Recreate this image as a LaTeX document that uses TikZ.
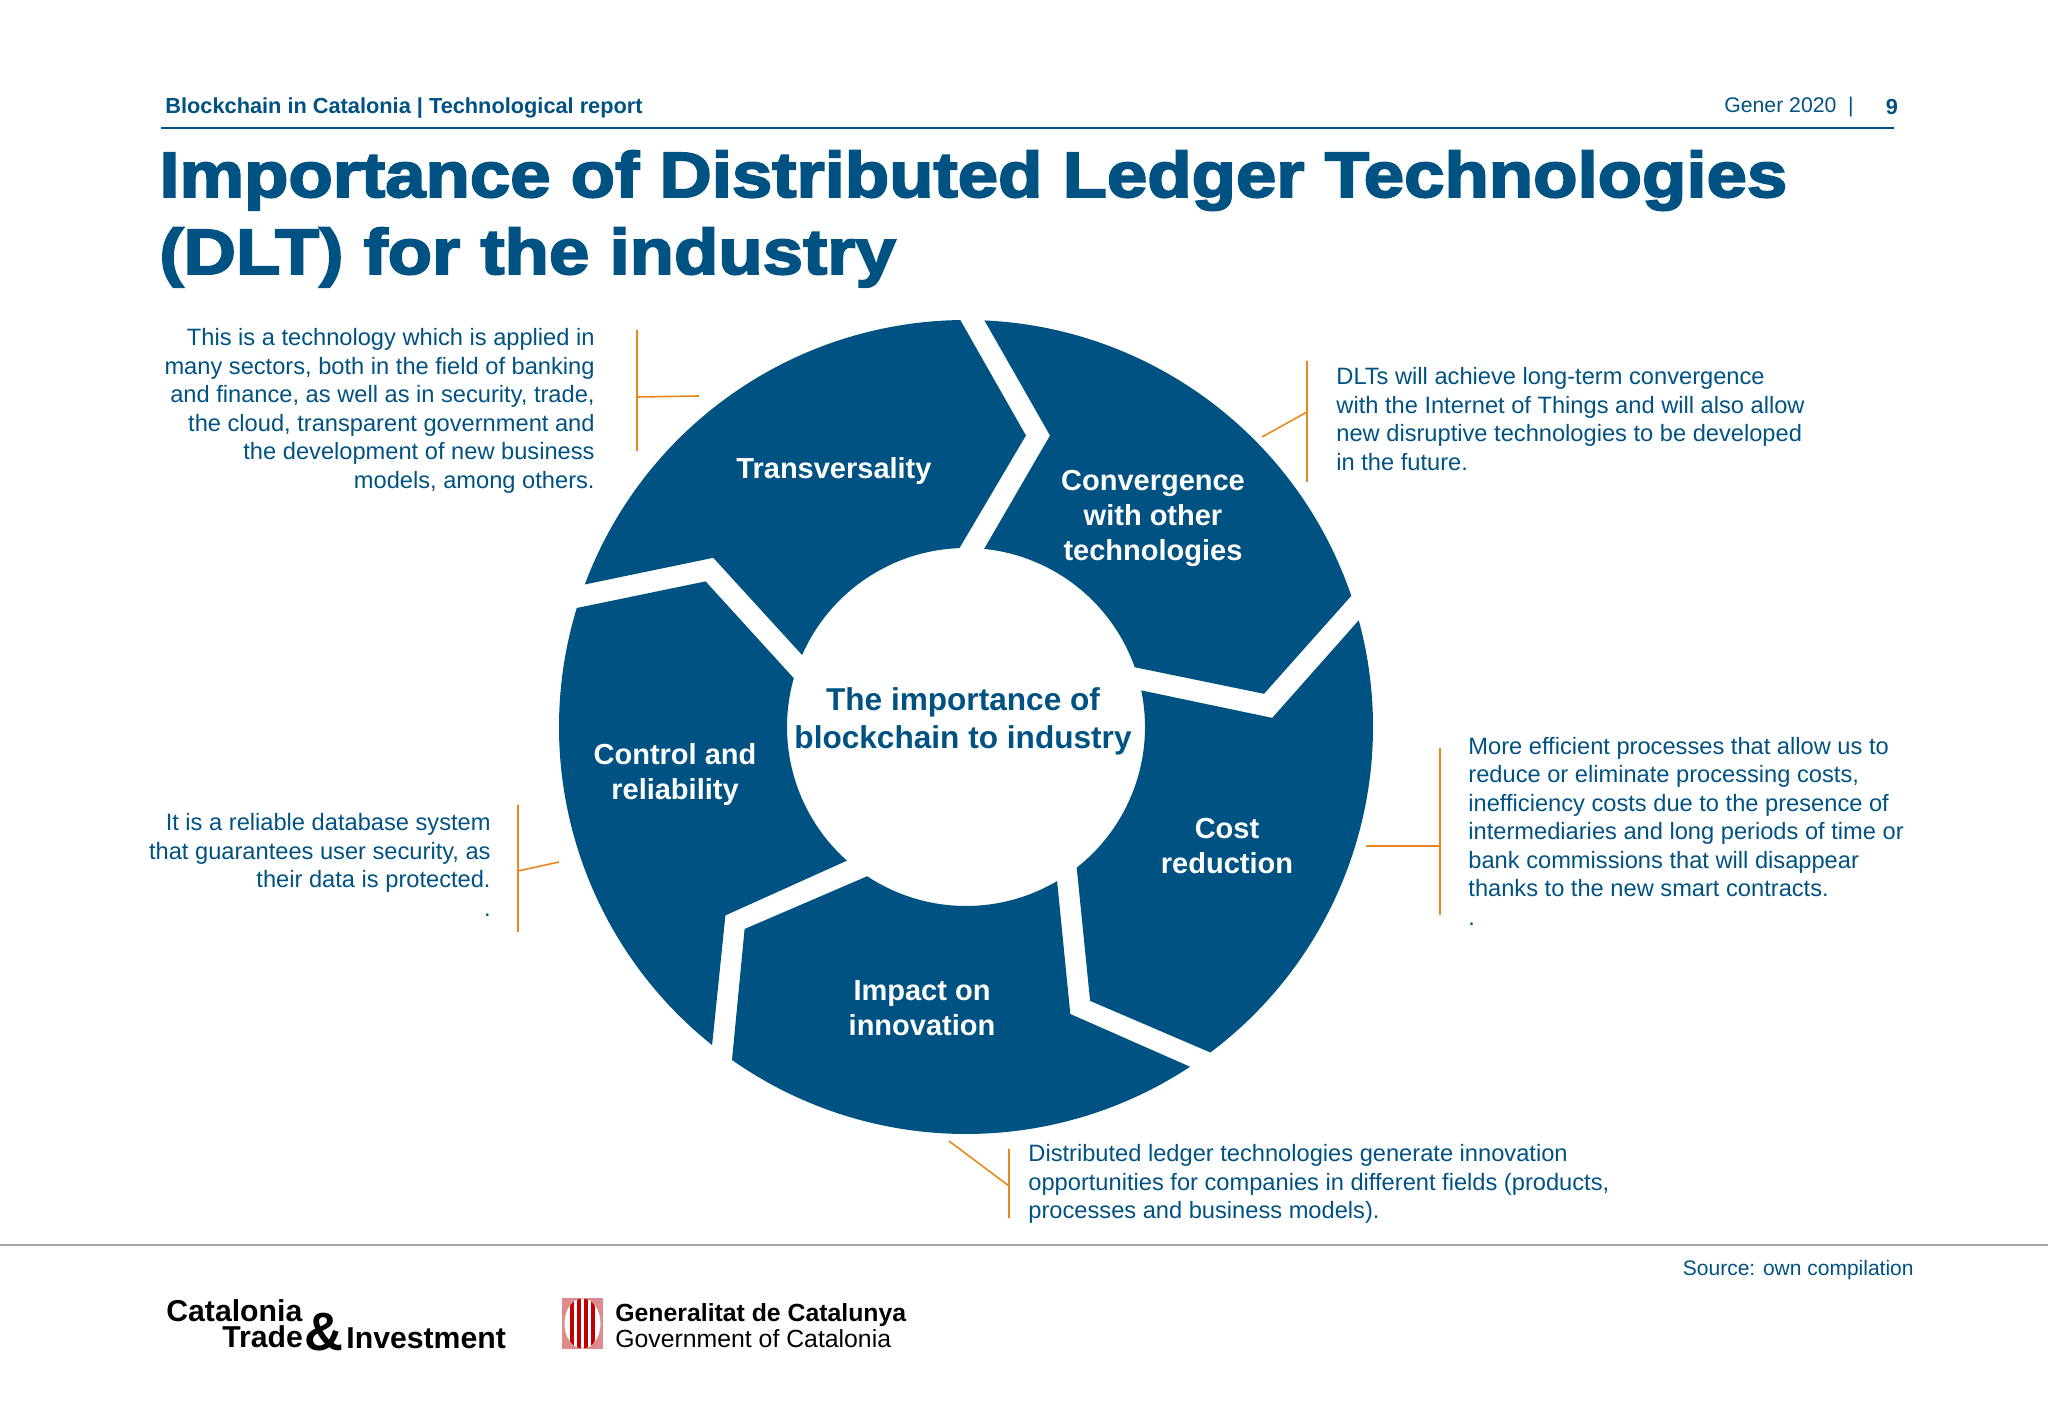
\documentclass[tikz,border=0pt]{standalone}
\usepackage{fontspec}
\setmainfont{Liberation Sans}
\newfontfamily\heavyfont[FakeBold=3,FakeStretch=1.134]{Liberation Sans Bold}
\usepackage{xcolor}
\definecolor{dltblue}{HTML}{005283}
\definecolor{brkorange}{HTML}{E8871E}
\usetikzlibrary{calc}

\begin{document}
\begin{tikzpicture}[x=0.5pt,y=0.5pt, every node/.style={inner sep=0pt,text=dltblue},
seg/.style={fill=dltblue}, seglabel/.style={align=center,text=white,font=\fontsize{14.5}{17.3}\selectfont\bfseries},
note/.style={font=\fontsize{11.83}{14.25}\selectfont}, brk/.style={draw=brkorange,line width=0.8pt},
logo/.style={text=black,font=\fontsize{15.1}{13}\selectfont\bfseries}]
\useasboundingbox[fill=white] (0,0) rectangle (2048,1418);
\coordinate (c) at (966,691);
% header
\node[anchor=west,font=\fontsize{10.88}{13}\selectfont\bfseries] (report) at (165,1310) {Blockchain in Catalonia | Technological report};
\node[anchor=west,font=\fontsize{10.6}{13}\selectfont] (date) at (1724,1311) {Gener 2020\ \ |};
\node[font=\fontsize{10.9}{13}\selectfont\bfseries] (page) at (1892,1311) {9};
\coordinate (ruleL) at (161,1290); \coordinate (ruleR) at (1894,1290);
\draw[dltblue,line width=1.25pt] (ruleL)--(ruleR);
\node[anchor=base west,align=left,font=\fontsize{32}{38}\selectfont\heavyfont] (title) at (159,1221) {Importance of Distributed Ledger Technologies};
\node[anchor=base west,font=\fontsize{32}{38}\selectfont\heavyfont] (title2) at (159,1144) {(DLT) for the industry};
% wheel
\fill[seg] ($(c)+(159.5:407)$) arc[start angle=159.5,end angle=90.8,radius=407] -- (1025.9,982.5) -- ($(c)+(92.1:179)$) arc[start angle=92.1,end angle=156.3,radius=179] -- (713.3,860.2) -- cycle;
\fill[seg] ($(c)+(87.4:407)$) arc[start angle=87.4,end angle=18.8,radius=407] -- (1264,724.2) -- ($(c)+(19.5:179)$) arc[start angle=19.5,end angle=84.2,radius=179] -- (1050,982.5) -- cycle;
\fill[seg] ($(c)+(15.2:407)$) arc[start angle=15.2,end angle=-53.1,radius=407] -- (1090.1,417.1) -- ($(c)+(-51.8:179)$) arc[start angle=-51.8,end angle=11.8,radius=179] -- (1272.2,700.1) -- cycle;
\fill[seg] ($(c)+(-56.6:407)$) arc[start angle=-56.6,end angle=-125.1,radius=407] -- (744.6,489) -- ($(c)+(-123.5:179)$) arc[start angle=-123.5,end angle=-59.4,radius=179] -- (1070.3,404) -- cycle;
\fill[seg] ($(c)+(-128.6:407)$) arc[start angle=-128.6,end angle=-197,radius=407] -- (705.6,836.6) -- ($(c)+(164.2:179)$) arc[start angle=164.2,end angle=228.3,radius=179] -- (725.4,502.6) -- cycle;
\node[seglabel] (transv) at (834,946.5) {Transversality};
\node[seglabel] (conv) at (1153,899.5) {Convergence\\with other\\technologies};
\node[seglabel] (cost) at (1227,572) {Cost\\reduction};
\node[seglabel] (impact) at (922,410) {Impact on\\innovation};
\node[seglabel] (control) at (675,643.5) {Control and\\reliability};
\node[align=center,font=\fontsize{15.8}{18.9}\selectfont\bfseries] (hub) at (963,696.5) {The importance of\\blockchain to industry};
% side notes
\node[note,anchor=east,align=right] (transvnote) at (595,1007) {This is a technology which is applied in\\many sectors, both in the field of banking\\and finance, as well as in security, trade,\\the cloud, transparent government and\\the development of new business\\models, among others.};
\node[note,anchor=west,align=left] (convnote) at (1336,999) {DLTs will achieve long-term convergence\\with the Internet of Things and will also allow\\new disruptive technologies to be developed\\in the future.};
\node[note,anchor=west,align=left] (costnote) at (1468,587) {More efficient processes that allow us to\\reduce or eliminate processing costs,\\inefficiency costs due to the presence of\\intermediaries and long periods of time or\\bank commissions that will disappear\\thanks to the new smart contracts.\\.};
\node[note,anchor=east,align=right] (controlnote) at (491,553) {It is a reliable database system\\that guarantees user security, as\\their data is protected.\\.};
\node[note,anchor=west,align=left] (impactnote) at (1028,234) {Distributed ledger technologies generate innovation\\opportunities for companies in different fields (products,\\processes and business models).};
% brackets
\coordinate (b1a) at (637,1088); \coordinate (b1b) at (637,967); \coordinate (b1m) at (637,1021); \coordinate (b1e) at (699,1022);
\coordinate (b2a) at (1307,1057); \coordinate (b2b) at (1307,936); \coordinate (b2m) at (1307,1006); \coordinate (b2e) at (1262,981);
\coordinate (b3a) at (1440,670); \coordinate (b3b) at (1440,503); \coordinate (b3m) at (1440,572); \coordinate (b3e) at (1366,572);
\coordinate (b4a) at (518,613); \coordinate (b4b) at (518,486); \coordinate (b4m) at (518,547); \coordinate (b4e) at (559,556);
\coordinate (b5a) at (1009,269); \coordinate (b5b) at (1009,200); \coordinate (b5m) at (1009,232); \coordinate (b5e) at (949,277);
\draw[brk] (b1a)--(b1b) (b1m)--(b1e);
\draw[brk] (b2a)--(b2b) (b2m)--(b2e);
\draw[brk] (b3a)--(b3b) (b3m)--(b3e);
\draw[brk] (b4a)--(b4b) (b4m)--(b4e);
\draw[brk] (b5a)--(b5b) (b5m)--(b5e);
% footer
\coordinate (footL) at (0,173); \coordinate (footR) at (2048,173);
\draw[black!35,line width=0.6pt] (footL)--(footR);
\node[anchor=east,font=\fontsize{10.5}{13}\selectfont] (source) at (1914,148) {Source: own compilation};
\node[logo,anchor=west,align=left] (cat) at (166,94) {Catalonia\\\hspace{28pt}Trade};
\node[logo,anchor=west,font=\fontsize{27}{27}\selectfont\bfseries] (amp) at (304,86) {\&};
\node[logo,anchor=west] (invest) at (346,80) {Investment};
\fill[red!70!black,opacity=0.45] (562,69) rectangle (603,120);
\begin{scope}
\path[clip] (582.5,94.5) ellipse (18 and 25);
\fill[white] (562,69) rectangle (603,120);
\foreach \sx in {570,577,584,591} \fill[red!75!black] (\sx,69) rectangle ++(3.5,51);
\end{scope}
\node[logo,anchor=west,font=\fontsize{12.4}{14}\selectfont\bfseries] (gen) at (615,103) {Generalitat de Catalunya};
\node[logo,anchor=west,font=\fontsize{12.4}{14}\selectfont] (gov) at (615,79) {Government of Catalonia};
\end{tikzpicture}
\end{document}
